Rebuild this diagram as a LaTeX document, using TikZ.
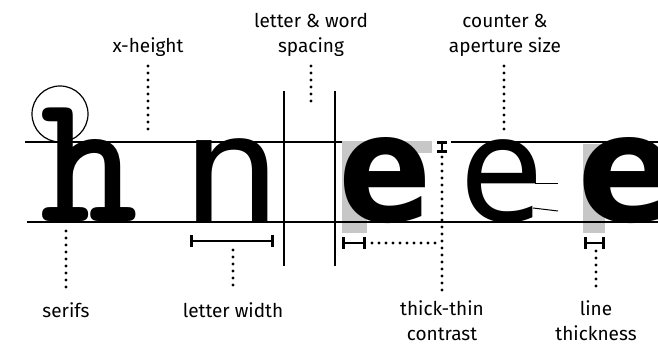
\documentclass[tikz,border=0pt]{standalone}
\usepackage{fontspec}
\usetikzlibrary{arrows.meta}
\setmainfont{Fira Sans}
\newfontfamily\nfont{DejaVu Sans Mono}
\newfontfamily\efont{DejaVu Sans}
\newfontfamily\erfont{Noto Sans}
\begin{document}
\begin{tikzpicture}[x=1pt,y=-1pt,
  lbl/.style={font=\fontsize{19}{25.5}\selectfont, align=center, inner sep=0pt},
  guide/.style={line width=2.4pt},
  vline/.style={line width=1.4pt},
  dots/.style={line width=3.2pt, line cap=round, dash pattern=on 0pt off 7pt},
  ibeam/.style={line width=2.6pt, {Bar[width=12pt]}-{Bar[width=12pt]}},
  glyph/.style={inner sep=0pt, anchor=base west},
  shade/.style={fill=black!22, draw=none}]
\useasboundingbox (0,0) rectangle (658,344);
\clip (0,0) rectangle (658,344);
% gray shading
\fill[shade] (342,142) rectangle (367,233);
\fill[shade] (583,144) rectangle (605,233);
% guide lines
\draw[guide] (25,142) -- (432,142);
\draw[guide] (451,142) -- (658,142);
\draw[guide] (27,222) -- (658,222);
\fill[shade] (342,141) rectangle (432,153);
% vertical spacing lines
\draw[vline] (284,91) -- (284,266);
\draw[vline] (335,91) -- (335,266);
% glyphs
\node[glyph] (h) at (40,222) {\fontsize{186}{186}\ttfamily\bfseries h};
\node[glyph] (n) at (180,222) {\scalebox{1.15}[1]{\fontsize{148}{148}\nfont n}};
\node[glyph] (e1) at (338,222) {\scalebox{0.92}[1]{\fontsize{150}{150}\efont\bfseries e}};
\node[glyph] (e2) at (459,222) {\fontsize{150}{150}\erfont e};
\node[glyph] (e3) at (577,222) {\fontsize{150}{150}\efont\bfseries e};
% serif circle
\node[draw, circle, line width=1.2pt, minimum size=56pt, inner sep=0pt] (serif) at (60,114) {};
% aperture marks
\coordinate (ap1) at (535,184);
\coordinate (ap1e) at (558,184);
\coordinate (ap2) at (533,208);
\coordinate (ap2e) at (558,211);
\draw[line width=1pt] (ap1) -- (ap1e);
\draw[line width=1pt] (ap2) -- (ap2e);
% measurement bars
\coordinate (lw1) at (190,241); \coordinate (lw2) at (274,241);
\draw[ibeam] (lw1) -- (lw2);
\coordinate (st1) at (342,243); \coordinate (st2) at (366,243);
\draw[ibeam] (st1) -- (st2);
\coordinate (lt1) at (584,243); \coordinate (lt2) at (605,243);
\draw[ibeam] (lt1) -- (lt2);
\coordinate (tt1) at (442,141); \coordinate (tt2) at (442,153);
\draw[line width=2.6pt, {Bar[width=10pt]}-{Bar[width=10pt]}] (tt1) -- (tt2);
% labels (anchor = baseline of last line)
\node[lbl, anchor=base] (xh) at (148,53) {x-height};
\node[lbl, anchor=base] (sp) at (311,53) {letter \& word\\spacing};
\node[lbl, anchor=base] (ca) at (505,53) {counter \&\\aperture size};
\node[lbl, anchor=base] (se) at (66,317) {serifs};
\node[lbl, anchor=base] (lw) at (233,317) {letter width};
\node[lbl, anchor=base] (tt) at (442,341) {thick-thin\\contrast};
\node[lbl, anchor=base] (lt) at (596,341) {line\\thickness};
% dotted leaders
\coordinate (xhb) at (148,133); \draw[dots] (148,66) -- (xhb);
\coordinate (spb) at (311,107); \draw[dots] (311,66) -- (spb);
\coordinate (cab) at (504,133); \draw[dots] (504,66) -- (cab);
\draw[dots] (66,231) -- (66,292);
\draw[dots] (233,250) -- (233,292);
\draw[dots] (442,157) -- (442,292);
\draw[dots] (372,243) -- (438,243);
\draw[dots] (596,251) -- (596,292);
\end{tikzpicture}
\end{document}
